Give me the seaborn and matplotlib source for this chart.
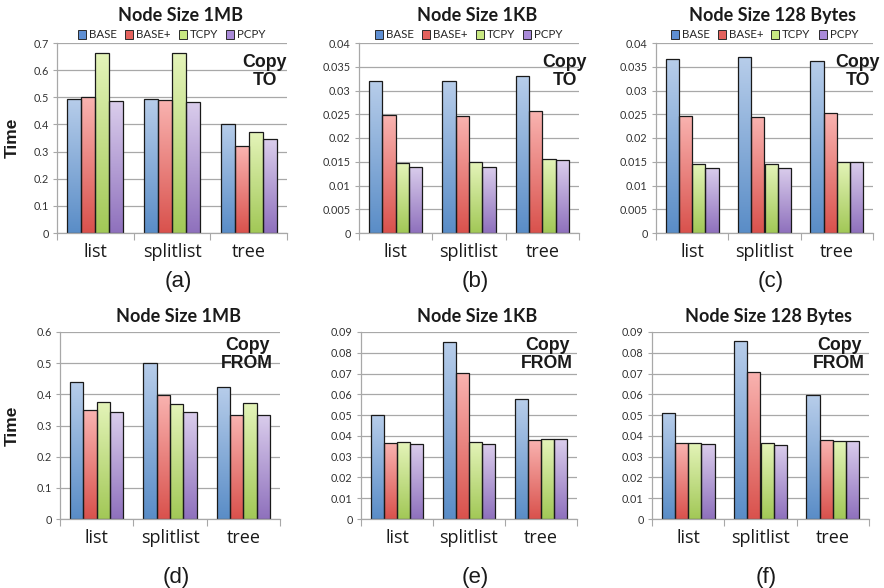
import numpy as np
import pandas as pd
import matplotlib
matplotlib.use("Agg")
import matplotlib.pyplot as plt
from matplotlib.patches import Patch
import seaborn as sns

# ---------------- data ----------------
structures = ["list", "splitlist", "tree"]
variants = ["BASE", "BASE+", "TCPY", "PCPY"]

# values per variant, in order list / splitlist / tree
to_1mb = {"BASE": [0.495, 0.495, 0.402], "BASE+": [0.500, 0.490, 0.320],
          "TCPY": [0.663, 0.663, 0.372], "PCPY": [0.485, 0.483, 0.346]}
to_1kb = {"BASE": [0.0319, 0.0321, 0.0331], "BASE+": [0.0248, 0.0247, 0.0256],
          "TCPY": [0.0147, 0.0149, 0.0156], "PCPY": [0.0140, 0.0140, 0.0153]}
to_128b = {"BASE": [0.0366, 0.0370, 0.0362], "BASE+": [0.0247, 0.0245, 0.0253],
           "TCPY": [0.0146, 0.0146, 0.0150], "PCPY": [0.0137, 0.0137, 0.0150]}
from_1mb = {"BASE": [0.439, 0.500, 0.424], "BASE+": [0.349, 0.399, 0.333],
            "TCPY": [0.377, 0.369, 0.373], "PCPY": [0.343, 0.343, 0.335]}
from_1kb = {"BASE": [0.0501, 0.0851, 0.0576], "BASE+": [0.0366, 0.0704, 0.0382],
            "TCPY": [0.0370, 0.0372, 0.0385], "PCPY": [0.0363, 0.0363, 0.0385]}
from_128b = {"BASE": [0.0512, 0.0859, 0.0596], "BASE+": [0.0364, 0.0709, 0.0378],
             "TCPY": [0.0367, 0.0366, 0.0377], "PCPY": [0.0361, 0.0358, 0.0377]}

titles = ["Node Size 1MB", "Node Size 1KB", "Node Size 128 Bytes",
          "Node Size 1MB", "Node Size 1KB", "Node Size 128 Bytes"]
captions = ["(a)", "(b)", "(c)", "(d)", "(e)", "(f)"]
notes = ["Copy\nTO", "Copy\nTO", "Copy\nTO", "Copy\nFROM", "Copy\nFROM", "Copy\nFROM"]
ymaxes = [0.7, 0.04, 0.04, 0.6, 0.09, 0.09]
ysteps = [0.1, 0.005, 0.005, 0.1, 0.01, 0.01]
panels = [to_1mb, to_1kb, to_128b, from_1mb, from_1kb, from_128b]

# ---------------- style ----------------
top_cols = {"BASE": "#b7cdea", "BASE+": "#f9b3b0", "TCPY": "#e4f4b9", "PCPY": "#dacdec"}
bot_cols = {"BASE": "#5a8dc7", "BASE+": "#d9524d", "TCPY": "#a2c857", "PCPY": "#8f71bd"}
leg_cols = {"BASE": "#5f8fd2", "BASE+": "#e4625d", "TCPY": "#c8e882", "PCPY": "#a98ad8"}

sns.set_theme(style="white")
plt.rcParams["font.family"] = ["Lato", "DejaVu Sans"]

W, H = 884, 588
fig = plt.figure(figsize=(W / 100, H / 100), dpi=100)

def fx(x):
    return x / W

def fy(y):
    return 1 - y / H

# axes boxes in pixels: left, right, top, bottom
boxes = [(57, 287, 43, 233), (359, 579, 43, 233), (656, 873, 43, 233),
         (60, 280, 332, 519), (361, 577, 332, 519), (652, 869, 332, 519)]
note_dx = [0, 8, 7, -7, -4, -4]
grid_col = "#a8a8a8"


def to_rgb(h):
    return np.array(matplotlib.colors.to_rgb(h))


for i, (data, box) in enumerate(zip(panels, boxes)):
    l, r, t, b = box
    ax = fig.add_axes([fx(l), fy(b), (r - l) / W, (b - t) / H])
    rows = []
    for v in variants:
        for s, val in zip(structures, data[v]):
            rows.append({"structure": s, "variant": v, "time": val})
    df = pd.DataFrame(rows)
    sns.barplot(data=df, x="structure", y="time", hue="variant",
                order=structures, hue_order=variants,
                palette=[leg_cols[v] for v in variants], width=0.73,
                edgecolor="#1a1a1a", linewidth=0.9, legend=False, ax=ax,
                errorbar=None, saturation=1)

    # gradient fill inside each bar
    for v, cont in zip(variants, ax.containers):
        c_top, c_bot = to_rgb(top_cols[v]), to_rgb(bot_cols[v])
        tt = np.linspace(0, 1, 64)[:, None, None]
        img = c_top * (1 - tt) + c_bot * tt
        for bar in cont:
            x0, w, h = bar.get_x(), bar.get_width(), bar.get_height()
            im = ax.imshow(img, extent=(x0, x0 + w, 0, h), origin="upper",
                           aspect="auto", zorder=1.5, interpolation="bilinear")
            im.set_clip_path(bar)
            bar.set_facecolor("none")
            bar.set_zorder(2)

    ymax, step = ymaxes[i], ysteps[i]
    ticks = [round(k * step, 4) for k in range(int(round(ymax / step)) + 1)]
    ax.set_xlim(-0.5, 2.5)
    ax.set_ylim(0, ymax)
    ax.set_yticks(ticks)
    ax.set_yticklabels([f"{v:g}" for v in ticks], fontsize=7.8, color="#333333")
    ax.set_axisbelow(True)
    ax.yaxis.grid(True, color=grid_col, linewidth=0.9)
    ax.xaxis.grid(False)
    for sp in ["top", "right"]:
        ax.spines[sp].set_visible(False)
    for sp in ["left", "bottom"]:
        ax.spines[sp].set_color(grid_col)
        ax.spines[sp].set_linewidth(0.9)
    ax.tick_params(axis="y", length=3, width=0.8, color=grid_col, pad=3, left=True)
    ax.set_xticks([0, 1, 2])
    ax.set_xticklabels(structures, fontsize=13, family=["Open Sans", "DejaVu Sans"],
                       color="#1a1a1a")
    ax.tick_params(axis="x", length=0, pad=7)
    ax.set_xticks([-0.5, 0.5, 1.5, 2.5], minor=True)
    ax.tick_params(axis="x", which="minor", length=5, width=0.8, color=grid_col,
                   bottom=True, direction="out")
    ax.set_xlabel("")
    ax.set_ylabel("")

    # note text inside plot
    note_top = 54 if i < 3 else 337
    ax.text(fx(r + note_dx[i]), fy(note_top), notes[i], transform=fig.transFigure,
            ha="right", va="top", multialignment="center", fontsize=12.8,
            fontweight="bold", family=["Liberation Sans", "DejaVu Sans"],
            linespacing=1.1, color="#1a1a1a")

    cx = (l + r) / 2
    # title
    title_y = 21 if i < 3 else 322
    fig.text(fx(cx + 8), fy(title_y), titles[i], ha="center", va="baseline",
             fontsize=13, fontweight="bold", color="#1a1a1a")
    # caption
    cap_y = 282 if i < 3 else 577
    fig.text(fx(cx + 6), fy(cap_y), captions[i], ha="center", va="center",
             fontsize=16, family=["Liberation Sans", "DejaVu Sans"], color="#1a1a1a")

    # legend for top row
    if i < 3:
        handles = [Patch(facecolor=leg_cols[v], edgecolor="#2a2a2a", linewidth=0.7,
                         label=v) for v in variants]
        ax.legend(handles=handles, loc="center", ncol=4,
                  bbox_to_anchor=(fx(cx), fy(35)), bbox_transform=fig.transFigure,
                  frameon=False, fontsize=8.3, handlelength=0.7, handleheight=0.7,
                  handletextpad=0.25, columnspacing=0.7, borderpad=0, borderaxespad=0)

    # y label for left column
    if i % 3 == 0:
        fig.text(fx(12), fy((t + b) / 2), "Time", rotation=90, ha="center",
                 va="center", fontsize=12.5, fontweight="bold",
                 family=["Liberation Sans", "DejaVu Sans"], color="#1a1a1a")

fig.savefig("out.png", dpi=100)
